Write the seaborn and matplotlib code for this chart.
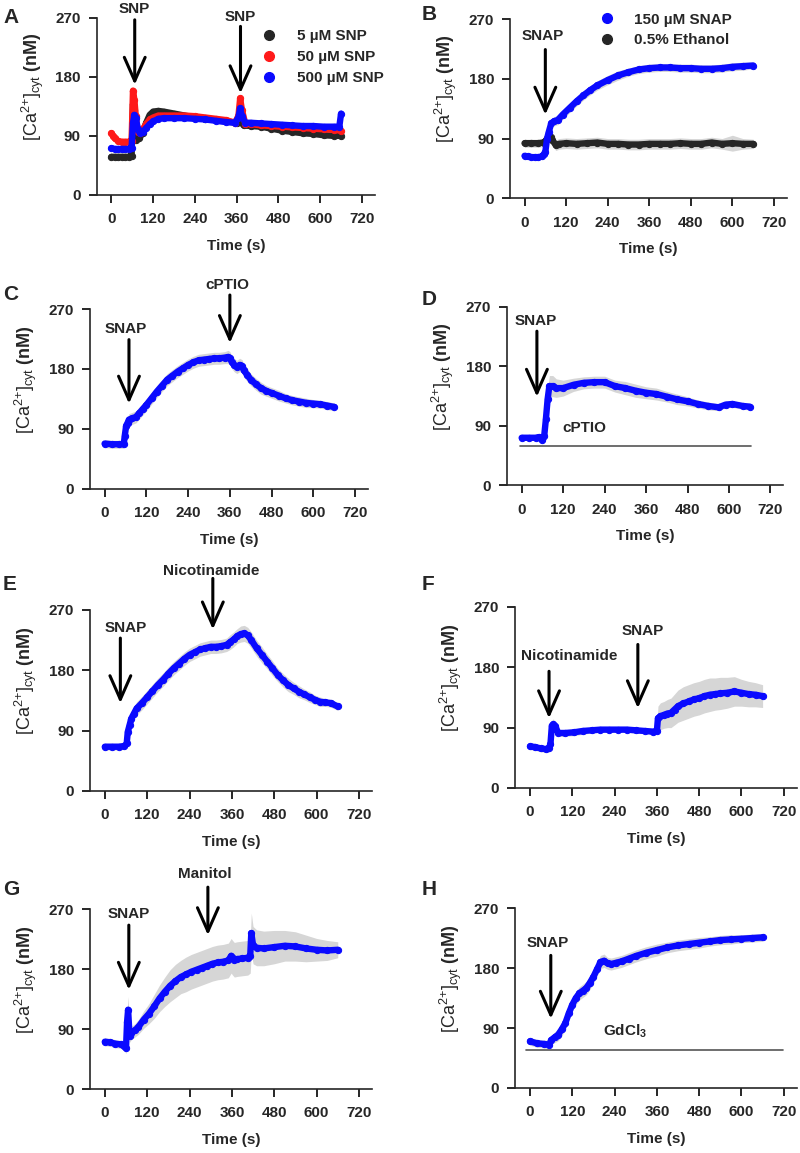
import numpy as np
import pandas as pd
import matplotlib
matplotlib.use('Agg')
import matplotlib.pyplot as plt
import seaborn as sns
from matplotlib.lines import Line2D

sns.set_style('ticks')
plt.rcParams['font.family'] = ['Liberation Sans', 'DejaVu Sans']
plt.rcParams['font.weight'] = 'bold'
plt.rcParams['mathtext.fontset'] = 'custom'
plt.rcParams['mathtext.rm'] = 'Liberation Sans'
plt.rcParams['mathtext.it'] = 'Liberation Sans'
plt.rcParams['mathtext.bf'] = 'Liberation Sans:bold'
plt.rcParams['mathtext.default'] = 'regular'

BLUE = '#0a0aff'
RED = '#ff1a1a'
BLACK = '#262626'
BAND = '#d6d6d6'

# ---------------- Panel A ----------------
a_black_t = [0, 10, 20, 30, 40, 50, 58, 62, 66, 72, 80, 90, 100, 110, 120, 135, 150, 180, 210, 240, 270, 300,
             330, 360, 370, 380, 400, 430, 460, 490, 520, 550, 580, 610, 640, 660]
a_black_v = [58, 58, 58, 58, 58, 58, 60, 138, 130, 84, 86, 95, 110, 122, 127, 128, 127, 124, 121, 118, 116, 114,
             112, 110, 112, 106, 105, 104, 101, 98, 96, 94, 93, 91, 90, 90]
a_red_t = [0, 5, 10, 20, 30, 40, 50, 58, 62, 66, 70, 76, 82, 90, 100, 110, 120, 135, 150, 180, 210, 240, 270, 300,
           330, 355, 365, 370, 375, 385, 400, 430, 460, 490, 520, 550, 580, 610, 640, 660]
a_red_v = [94, 90, 86, 82, 81, 81, 81, 82, 159, 145, 120, 96, 94, 100, 108, 115, 118, 121, 121, 121, 121, 120, 118,
           116, 114, 110, 120, 147, 130, 108, 108, 106, 105, 104, 103, 102, 101, 100, 99, 98]
a_blue_t = [0, 10, 20, 30, 40, 50, 58, 62, 66, 70, 76, 82, 90, 100, 110, 120, 135, 150, 180, 210, 240, 270, 300,
            330, 355, 365, 370, 375, 385, 400, 430, 460, 490, 520, 550, 580, 610, 640, 655, 660]
a_blue_v = [71, 70, 70, 70, 70, 70, 72, 110, 122, 118, 100, 94, 96, 102, 108, 112, 116, 117, 117, 117, 116, 115,
            113, 111, 110, 118, 132, 120, 110, 110, 109, 108, 107, 106, 105, 105, 104, 104, 104, 124]
a_labels = ['5 \u00b5M SNP', '50 \u00b5M SNP', '500 \u00b5M SNP']

# ---------------- Panel B ----------------
b_blue_t = [0, 10, 20, 30, 40, 50, 55, 60, 65, 70, 77, 85, 96, 110, 130, 150, 170, 190, 210, 240, 270, 300, 330,
            360, 390, 420, 450, 480, 510, 540, 570, 600, 630, 660]
b_blue_v = [64, 63, 62, 62, 62, 63, 66, 70, 90, 100, 113, 116, 118, 126, 136, 146, 155, 163, 170, 178, 185, 190,
            194, 196, 197, 197, 196, 196, 195, 195, 196, 198, 199, 200]
b_blue_sd = [4, 4, 4, 4, 4, 4, 5, 6, 8, 8, 7, 7, 7, 7, 7, 7, 7, 7, 7, 7, 7, 6, 6, 6, 6, 6, 6, 6, 6, 6, 6, 6, 6, 5]
b_black_t = [0, 20, 40, 55, 60, 65, 70, 75, 80, 90, 100, 120, 150, 180, 210, 240, 270, 300, 330, 360, 390, 420,
             450, 480, 510, 540, 570, 600, 630, 660]
b_black_v = [83, 83, 83, 84, 86, 90, 93, 92, 88, 80, 82, 83, 82, 83, 84, 82, 82, 81, 81, 82, 82, 82, 83, 82, 82,
             84, 82, 83, 82, 82]
b_black_sd = [6, 6, 6, 6, 7, 8, 8, 8, 8, 8, 8, 8, 8, 8, 8, 8, 8, 8, 8, 8, 8, 8, 8, 8, 8, 8, 8, 12, 8, 7]
b_labels = ['150 \u00b5M SNAP', '0.5% Ethanol']

# ---------------- Panel C ----------------
c_t = [0, 20, 40, 55, 58, 62, 66, 70, 80, 90, 100, 110, 120, 135, 150, 165, 180, 195, 210, 225, 240, 255, 270,
       285, 300, 315, 330, 345, 355, 360, 365, 372, 380, 388, 395, 400, 410, 420, 435, 450, 465, 480, 500, 520,
       540, 560, 580, 600, 620, 640, 660]
c_v = [68, 67, 67, 67, 80, 95, 99, 104, 106, 108, 114, 120, 126, 136, 146, 155, 164, 170, 176, 181, 186, 190, 193,
       194, 195, 196, 196, 197, 198, 196, 191, 186, 183, 186, 184, 178, 171, 164, 157, 151, 147, 144, 140, 136,
       133, 131, 129, 128, 127, 125, 123]
c_sd = [6, 6, 6, 6, 8, 9, 9, 9, 9, 9, 9, 9, 9, 9, 9, 9, 9, 9, 9, 9, 9, 9, 9, 9, 9, 9, 9, 9, 10, 10, 10, 10, 10,
        10, 10, 10, 10, 9, 9, 9, 8, 8, 8, 7, 7, 7, 7, 6, 6, 6, 6]

# ---------------- Panel D ----------------
d_t = [0, 20, 40, 50, 60, 65, 70, 75, 80, 90, 100, 120, 150, 180, 210, 240, 270, 300, 330, 360, 390, 420, 450,
       480, 510, 540, 570, 590, 610, 640, 660]
d_v = [72, 72, 72, 73, 68, 74, 100, 130, 150, 150, 147, 147, 152, 155, 156, 156, 150, 147, 143, 140, 138, 134,
       130, 127, 123, 120, 118, 122, 123, 120, 119]
d_sd = [4, 4, 4, 4, 5, 8, 14, 16, 16, 16, 14, 12, 10, 9, 9, 9, 9, 10, 10, 9, 9, 8, 8, 7, 6, 6, 5, 5, 5, 5, 5]

# ---------------- Panel E ----------------
e_t = [0, 20, 40, 55, 62, 65, 70, 75, 82, 90, 105, 120, 135, 150, 165, 180, 195, 210, 225, 240, 255, 270, 285,
       300, 315, 330, 345, 355, 365, 375, 385, 395, 405, 415, 430, 445, 460, 475, 490, 505, 520, 535, 550, 565,
       580, 595, 610, 625, 640, 660]
e_v = [66, 66, 66, 67, 71, 88, 98, 108, 115, 123, 131, 140, 149, 158, 166, 175, 183, 190, 197, 203, 207, 211,
       213, 215, 215, 216, 218, 222, 226, 231, 234, 235, 232, 225, 213, 203, 193, 183, 173, 165, 158, 153, 148,
       144, 140, 136, 133, 132, 131, 126]
e_sd = [5, 5, 5, 5, 6, 10, 10, 10, 10, 10, 10, 10, 10, 10, 10, 10, 10, 10, 10, 10, 10, 10, 10, 10, 10, 10, 10,
        11, 11, 11, 12, 12, 12, 12, 12, 12, 11, 11, 10, 10, 10, 9, 9, 8, 8, 7, 7, 6, 6, 6]

# ---------------- Panel F ----------------
f_t = [0, 15, 30, 45, 55, 58, 62, 66, 72, 80, 100, 125, 150, 175, 200, 225, 250, 275, 300, 325, 350, 360, 363,
       370, 380, 390, 400, 410, 420, 435, 450, 465, 480, 495, 510, 525, 540, 560, 580, 600, 620, 640, 660]
f_v = [62, 61, 59, 58, 60, 65, 93, 95, 92, 82, 82, 83, 85, 86, 87, 87, 87, 87, 86, 85, 84, 85, 104, 107, 109, 111,
       112, 117, 122, 126, 129, 132, 134, 137, 139, 140, 141, 142, 144, 142, 140, 139, 137]
f_sd = [5, 5, 5, 5, 6, 8, 8, 8, 6, 5, 5, 5, 5, 4, 4, 4, 4, 4, 4, 4, 4, 5, 18, 20, 20, 21, 22, 23, 24, 25, 25, 25,
        25, 25, 25, 24, 24, 23, 22, 20, 19, 18, 17]

# ---------------- Panel G ----------------
g_t = [0, 15, 30, 45, 55, 60, 63, 66, 70, 75, 85, 95, 110, 125, 140, 155, 170, 185, 200, 215, 230, 245, 260, 275,
       290, 305, 320, 335, 350, 358, 362, 367, 375, 390, 405, 412, 415, 420, 430, 450, 480, 510, 540, 570, 600,
       630, 660]
g_v = [71, 70, 68, 67, 64, 61, 100, 119, 80, 84, 88, 93, 104, 113, 124, 136, 146, 155, 162, 168, 172, 176, 179,
       182, 185, 188, 190, 191, 193, 200, 197, 194, 195, 196, 197, 200, 234, 216, 212, 211, 213, 215, 214, 211,
       209, 208, 209]
g_sd = [6, 6, 6, 6, 6, 8, 18, 20, 10, 10, 10, 11, 13, 15, 18, 20, 22, 24, 25, 25, 26, 26, 26, 26, 26, 26, 26, 26,
        26, 26, 26, 26, 26, 26, 26, 26, 30, 28, 27, 26, 25, 23, 22, 20, 17, 15, 12]

# ---------------- Panel H ----------------
h_t = [0, 20, 40, 55, 60, 70, 80, 90, 100, 110, 120, 130, 140, 150, 160, 170, 180, 190, 200, 210, 220, 230, 245,
       260, 280, 300, 330, 360, 390, 420, 450, 480, 510, 540, 570, 600, 630, 660]
h_v = [70, 67, 66, 65, 72, 76, 80, 88, 97, 112, 125, 135, 142, 146, 150, 158, 167, 178, 189, 191, 187, 186, 188,
       190, 194, 198, 203, 207, 211, 214, 216, 218, 220, 222, 223, 224, 225, 226]
h_sd = [6, 6, 6, 6, 7, 8, 9, 10, 10, 10, 10, 10, 10, 10, 10, 10, 10, 10, 10, 10, 9, 9, 9, 9, 9, 9, 9, 9, 8, 8, 8,
        8, 7, 7, 7, 6, 6, 6]

# ---------------- Annotations ----------------
# (label, arrow time, text centre y, arrow tail y, arrow tip y, text x shift)
arrows = {
    'A': [('SNP', 67, 283, 267, 168, 0), ('SNP', 371, 272, 257, 155, 0)],
    'B': [('SNAP', 60, 244, 224, 126, -7)],
    'C': [('SNAP', 70, 240, 224, 128, -8), ('cPTIO', 360, 306, 291, 219, -8)],
    'D': [('SNAP', 44, 248, 233, 134, -3)],
    'E': [('SNAP', 44, 243, 228, 131, 15), ('Nicotinamide', 306, 328, 317, 241, -6)],
    'F': [('Nicotinamide', 54, 197, 174, 104, 56), ('SNAP', 306, 234, 214, 119, 13)],
    'G': [('SNAP', 68, 263, 246, 149, 0), ('Manitol', 292, 323, 303, 231, -9)],
    'H': [('SNAP', 59, 217, 199, 104, -10)],
}
bars = {'D': ('cPTIO', -5, 665, 59, 180, 86), 'H': ('GdCl$_\\mathbf{3}$', -10, 718, 57, 270, 85)}
y_label = '[Ca$^{2{+}}$]$_{cyt}$ $\\mathbf{(nM)}$'

positions = {
    'A': [0.121, 0.831, 0.3475, 0.1535],
    'B': [0.6375, 0.828, 0.346, 0.1555],
    'C': [0.1125, 0.576, 0.3475, 0.156],
    'D': [0.634, 0.579, 0.345, 0.155],
    'E': [0.1125, 0.314, 0.3525, 0.157],
    'F': [0.644, 0.3166, 0.352, 0.157],
    'G': [0.1125, 0.0555, 0.3525, 0.156],
    'H': [0.644, 0.0564, 0.352, 0.156],
}
letter_pos = {'A': (3, 8), 'B': (422, 5), 'C': (3, 285), 'D': (422, 290), 'E': (3, 575), 'F': (422, 575),
              'G': (3, 880), 'H': (422, 880)}

W, H = 800, 1153
fig = plt.figure(figsize=(8, 11.53), dpi=100)


def trace(ax, t, v, color, sd=None):
    df = pd.DataFrame({'t': t, 'v': v})
    if sd is not None:
        lo = np.array(v) - np.array(sd)
        hi = np.array(v) + np.array(sd)
        ax.fill_between(t, lo, hi, color=BAND, lw=0, zorder=1)
    sns.lineplot(data=df, x='t', y='v', ax=ax, color=color, lw=4.6, marker='o', ms=4.5, mec=color,
                 estimator=None, sort=False, zorder=3, solid_capstyle='round', solid_joinstyle='round')


def style(ax, pos):
    ax.set_xlim(-42, 757)
    ax.set_ylim(0, 270)
    ax.set_xticks([0, 120, 240, 360, 480, 600, 720])
    ax.set_yticks([0, 90, 180, 270])
    ax.set_xlabel('Time (s)', fontsize=11, fontweight='bold', labelpad=9)
    ax.set_ylabel(y_label, fontsize=13, fontweight='normal')
    wpx, hpx = pos[2] * W, pos[3] * H
    ax.yaxis.set_label_coords(-51 / wpx, 0.61)
    ax.tick_params(axis='both', direction='out', length=5.5, width=1.4, labelsize=11)
    ax.tick_params(axis='x', pad=7)
    ax.tick_params(axis='y', pad=6)
    for lab in ax.get_xticklabels() + ax.get_yticklabels():
        lab.set_fontweight('bold')
    sns.despine(ax=ax)
    ax.spines['left'].set_linewidth(1.2)
    ax.spines['bottom'].set_linewidth(1.2)


axes = {}
for key, pos in positions.items():
    axes[key] = fig.add_axes(pos)

trace(axes['A'], a_black_t, a_black_v, BLACK)
trace(axes['A'], a_red_t, a_red_v, RED)
trace(axes['A'], a_blue_t, a_blue_v, BLUE)
hA = [Line2D([], [], ls='none', marker='o', ms=7, color=c) for c in (BLACK, RED, BLUE)]
axes['A'].legend(hA, a_labels, loc='upper left', bbox_to_anchor=(0.57, 0.97), frameon=False,
                 handlelength=1.0, handletextpad=1.3, labelspacing=0.45, borderaxespad=0,
                 prop={'weight': 'bold', 'size': 11})

trace(axes['B'], b_black_t, b_black_v, BLACK, b_black_sd)
trace(axes['B'], b_blue_t, b_blue_v, BLUE, b_blue_sd)
hB = [Line2D([], [], ls='none', marker='o', ms=7, color=c) for c in (BLUE, BLACK)]
axes['B'].legend(hB, b_labels, loc='upper left', bbox_to_anchor=(0.3, 1.07), frameon=False,
                 handlelength=1.0, handletextpad=1.3, labelspacing=0.45, borderaxespad=0,
                 prop={'weight': 'bold', 'size': 11})

trace(axes['C'], c_t, c_v, BLUE, c_sd)
trace(axes['D'], d_t, d_v, BLUE, d_sd)
trace(axes['E'], e_t, e_v, BLUE, e_sd)
trace(axes['F'], f_t, f_v, BLUE, f_sd)
trace(axes['G'], g_t, g_v, BLUE, g_sd)
trace(axes['H'], h_t, h_v, BLUE, h_sd)

for key, ax in axes.items():
    style(ax, positions[key])
    for (lab, t, ty, tail, tip, dx) in arrows.get(key, []):
        ax.annotate('', xy=(t, tip), xytext=(t, tail),
                    arrowprops=dict(arrowstyle='->,head_length=1.7,head_width=0.75', lw=2.2, color='black',
                                    shrinkA=0, shrinkB=0),
                    annotation_clip=False, zorder=5)
        ax.text(t + dx, ty, lab, ha='center', va='center', fontsize=11, fontweight='bold', clip_on=False)
    if key in bars:
        lab, x0, x1, y, tx, ty = bars[key]
        ax.plot([x0, x1], [y, y], color='#555555', lw=1.2, zorder=2)
        ax.text(tx, ty, lab, ha='center', va='center', fontsize=11, fontweight='bold')

for key, (px, py) in letter_pos.items():
    fig.text(px / W, 1 - py / H, key, ha='left', va='top', fontsize=15, fontweight='bold')

fig.savefig('out.png', dpi=100)
